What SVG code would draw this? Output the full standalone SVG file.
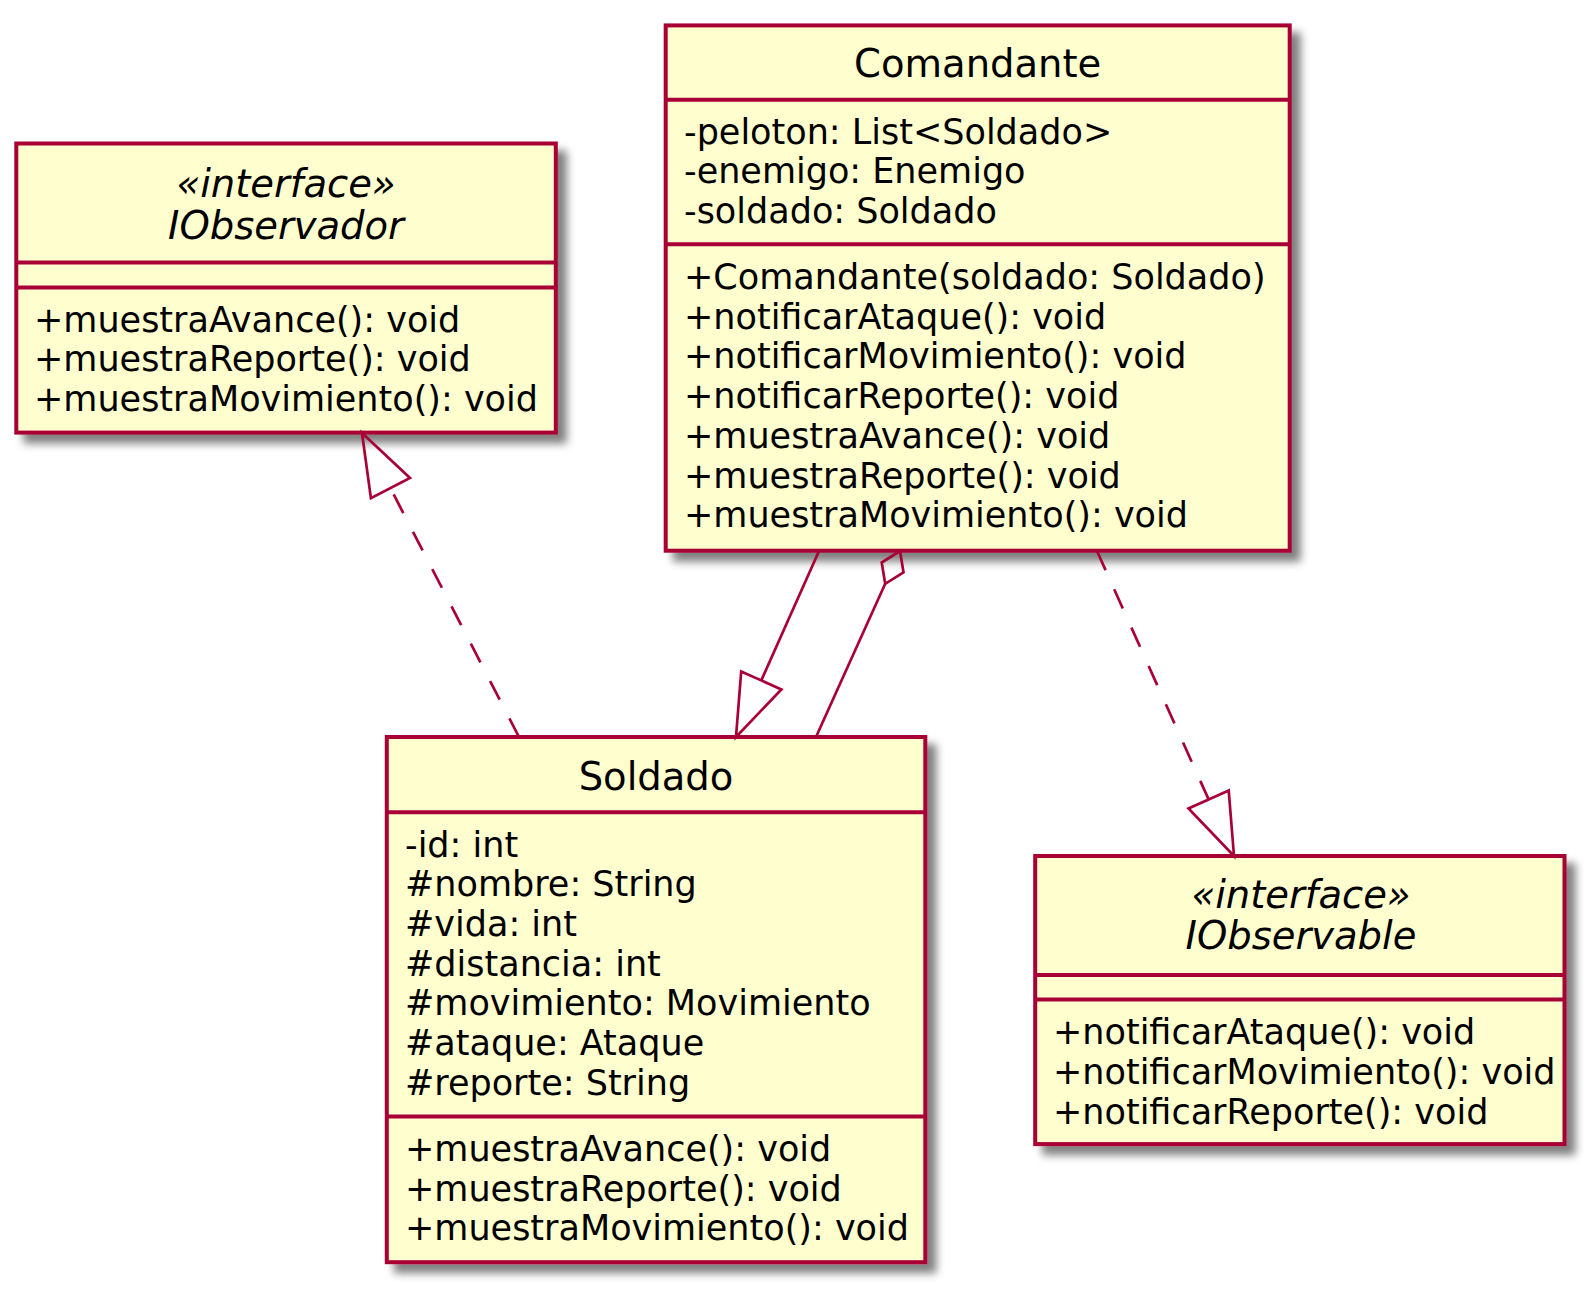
<svg xmlns="http://www.w3.org/2000/svg" width="1596" height="1293" viewBox="0 0 1596 1293">
<defs>
<filter id="sh" x="-10%" y="-10%" width="130%" height="130%">
<feGaussianBlur in="SourceAlpha" stdDeviation="4" result="b"/>
<feOffset in="b" dx="9" dy="9" result="o"/>
<feComponentTransfer in="o" result="s"><feFuncA type="linear" slope="0.5"/></feComponentTransfer>
<feMerge><feMergeNode in="s"/><feMergeNode in="SourceGraphic"/></feMerge>
</filter>
<style>
.box{fill:#FEFECE;stroke:#A80036;stroke-width:4;filter:url(#sh)}
.dv{stroke:#A80036;stroke-width:4}
.t{font-family:"DejaVu Sans",sans-serif;font-size:35px;fill:#000}
.ti{font-family:"DejaVu Sans",sans-serif;font-size:38.5px;fill:#000;text-anchor:middle}
.it{font-style:italic}
.ln{stroke:#A80036;stroke-width:2.7;fill:none}
.dash{stroke-dasharray:21,21}
.hd{stroke:#A80036;stroke-width:2.7;fill:none;stroke-linejoin:miter}
</style>
</defs>
<rect width="1596" height="1293" fill="#FFFFFF"/>

<g id="IObservador">
<rect class="box" x="16.3" y="143.5" width="539.5" height="289.1"/>
<line class="dv" x1="16.3" y1="262.6" x2="555.8" y2="262.6"/>
<line class="dv" x1="16.3" y1="287.6" x2="555.8" y2="287.6"/>
<text class="ti it" x="286" y="196.5">«interface»</text>
<text class="ti it" x="286" y="238.5">IObservador</text>
<text class="t" x="34" y="331.6">+muestraAvance(): void</text>
<text class="t" x="34" y="371.3">+muestraReporte(): void</text>
<text class="t" x="34" y="411">+muestraMovimiento(): void</text>
</g>

<g id="Comandante">
<rect class="box" x="665.7" y="25.4" width="624" height="525.3"/>
<line class="dv" x1="665.7" y1="99.8" x2="1289.7" y2="99.8"/>
<line class="dv" x1="665.7" y1="244.3" x2="1289.7" y2="244.3"/>
<text class="ti" x="977.7" y="77.4">Comandante</text>
<text class="t" x="684" y="143.5">-peloton: List&lt;Soldado&gt;</text>
<text class="t" x="684" y="183.2">-enemigo: Enemigo</text>
<text class="t" x="684" y="222.9">-soldado: Soldado</text>
<text class="t" x="684" y="289">+Comandante(soldado: Soldado)</text>
<text class="t" x="684" y="328.7">+notificarAtaque(): void</text>
<text class="t" x="684" y="368.4">+notificarMovimiento(): void</text>
<text class="t" x="684" y="408.1">+notificarReporte(): void</text>
<text class="t" x="684" y="447.8">+muestraAvance(): void</text>
<text class="t" x="684" y="487.5">+muestraReporte(): void</text>
<text class="t" x="684" y="527.2">+muestraMovimiento(): void</text>
</g>

<g id="Soldado">
<rect class="box" x="386.8" y="737" width="538.5" height="525.2"/>
<line class="dv" x1="386.8" y1="812.3" x2="925.3" y2="812.3"/>
<line class="dv" x1="386.8" y1="1116.4" x2="925.3" y2="1116.4"/>
<text class="ti" x="656" y="789.9">Soldado</text>
<text class="t" x="405" y="856.5">-id: int</text>
<text class="t" x="405" y="896.2">#nombre: String</text>
<text class="t" x="405" y="935.9">#vida: int</text>
<text class="t" x="405" y="975.6">#distancia: int</text>
<text class="t" x="405" y="1015.3">#movimiento: Movimiento</text>
<text class="t" x="405" y="1055">#ataque: Ataque</text>
<text class="t" x="405" y="1094.7">#reporte: String</text>
<text class="t" x="405" y="1160.8">+muestraAvance(): void</text>
<text class="t" x="405" y="1200.5">+muestraReporte(): void</text>
<text class="t" x="405" y="1240.2">+muestraMovimiento(): void</text>
</g>

<g id="IObservable">
<rect class="box" x="1035.2" y="856" width="529.3" height="288.1"/>
<line class="dv" x1="1035.2" y1="975.1" x2="1564.5" y2="975.1"/>
<line class="dv" x1="1035.2" y1="999.6" x2="1564.5" y2="999.6"/>
<text class="ti it" x="1301" y="908">«interface»</text>
<text class="ti it" x="1301" y="949">IObservable</text>
<text class="t" x="1053" y="1044.1">+notificarAtaque(): void</text>
<text class="t" x="1053" y="1083.8">+notificarMovimiento(): void</text>
<text class="t" x="1053" y="1123.5">+notificarReporte(): void</text>
</g>

<g id="connectors">
<path class="ln dash" d="M519,737 L390.4,488.1"/>
<polygon class="hd" points="362,433 410,478 370.9,498.2"/>
<path class="ln" d="M819,551 L761.3,680.4"/>
<polygon class="hd" points="736,737 781.4,689.4 741.2,671.4"/>
<path class="ln" d="M885.2,583.8 L816,737"/>
<polygon class="hd" points="900,551 903.5,572.3 885.2,583.8 881.7,562.5"/>
<path class="ln dash" d="M1097,551 L1208.6,799.4"/>
<polygon class="hd" points="1234,856 1188.5,808.4 1228.7,790.4"/>
</g>
</svg>
